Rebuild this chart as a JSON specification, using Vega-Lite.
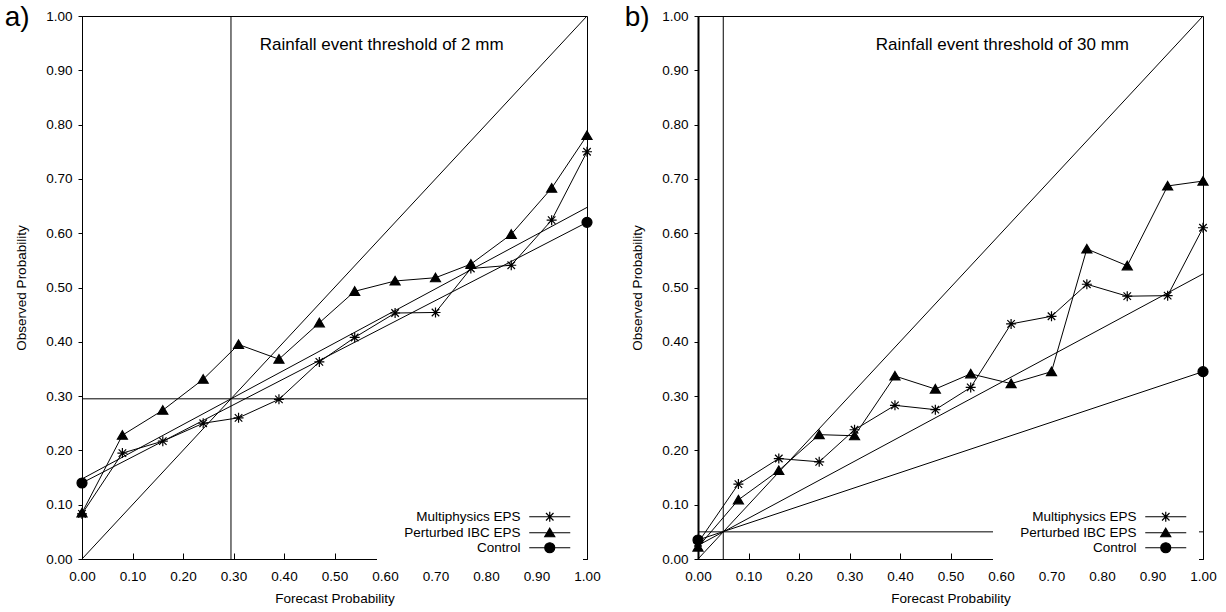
{
  "$schema": "https://vega.github.io/schema/vega-lite/v6.json",
  "background": "white",
  "padding": {"left": 4, "top": 3, "right": 5, "bottom": 5},
  "spacing": 16,
  "config": {
    "font": "Liberation Sans",
    "view": {"stroke": "black", "strokeWidth": 1},
    "axis": {"grid": false, "domainColor": "black", "tickColor": "black", "labelColor": "black", "titleColor": "black", "labelFontSize": 13.5, "titleFontSize": 13.5, "titleFontWeight": "normal", "labelFont": "Liberation Sans", "titleFont": "Liberation Sans", "labelOverlap": false, "labelFlush": false},
    "legend": {"labelFont": "Liberation Sans", "labelFontSize": 13.5, "labelColor": "black"}
  },
  "datasets": {
    "a": [
      {"series": "Multiphysics EPS", "fp": 0.0, "op": 0.083},
      {"series": "Multiphysics EPS", "fp": 0.08, "op": 0.195},
      {"series": "Multiphysics EPS", "fp": 0.16, "op": 0.217},
      {"series": "Multiphysics EPS", "fp": 0.24, "op": 0.25},
      {"series": "Multiphysics EPS", "fp": 0.31, "op": 0.26},
      {"series": "Multiphysics EPS", "fp": 0.39, "op": 0.294},
      {"series": "Multiphysics EPS", "fp": 0.47, "op": 0.363},
      {"series": "Multiphysics EPS", "fp": 0.54, "op": 0.408},
      {"series": "Multiphysics EPS", "fp": 0.62, "op": 0.453},
      {"series": "Multiphysics EPS", "fp": 0.70, "op": 0.454},
      {"series": "Multiphysics EPS", "fp": 0.77, "op": 0.535},
      {"series": "Multiphysics EPS", "fp": 0.85, "op": 0.541},
      {"series": "Multiphysics EPS", "fp": 0.93, "op": 0.624},
      {"series": "Multiphysics EPS", "fp": 1.0, "op": 0.75},
      {"series": "Perturbed IBC EPS", "fp": 0.0, "op": 0.085},
      {"series": "Perturbed IBC EPS", "fp": 0.08, "op": 0.228},
      {"series": "Perturbed IBC EPS", "fp": 0.16, "op": 0.274},
      {"series": "Perturbed IBC EPS", "fp": 0.24, "op": 0.331},
      {"series": "Perturbed IBC EPS", "fp": 0.31, "op": 0.395},
      {"series": "Perturbed IBC EPS", "fp": 0.39, "op": 0.368},
      {"series": "Perturbed IBC EPS", "fp": 0.47, "op": 0.435},
      {"series": "Perturbed IBC EPS", "fp": 0.54, "op": 0.493},
      {"series": "Perturbed IBC EPS", "fp": 0.62, "op": 0.512},
      {"series": "Perturbed IBC EPS", "fp": 0.70, "op": 0.518},
      {"series": "Perturbed IBC EPS", "fp": 0.77, "op": 0.543},
      {"series": "Perturbed IBC EPS", "fp": 0.85, "op": 0.598},
      {"series": "Perturbed IBC EPS", "fp": 0.93, "op": 0.683},
      {"series": "Perturbed IBC EPS", "fp": 1.0, "op": 0.78},
      {"series": "Control", "fp": 0.0, "op": 0.14},
      {"series": "Control", "fp": 1.0, "op": 0.62}
    ],
    "b": [
      {"series": "Multiphysics EPS", "fp": 0.0, "op": 0.03},
      {"series": "Multiphysics EPS", "fp": 0.08, "op": 0.138},
      {"series": "Multiphysics EPS", "fp": 0.16, "op": 0.185},
      {"series": "Multiphysics EPS", "fp": 0.24, "op": 0.179},
      {"series": "Multiphysics EPS", "fp": 0.31, "op": 0.238},
      {"series": "Multiphysics EPS", "fp": 0.39, "op": 0.283},
      {"series": "Multiphysics EPS", "fp": 0.47, "op": 0.275},
      {"series": "Multiphysics EPS", "fp": 0.54, "op": 0.316},
      {"series": "Multiphysics EPS", "fp": 0.62, "op": 0.433},
      {"series": "Multiphysics EPS", "fp": 0.70, "op": 0.447},
      {"series": "Multiphysics EPS", "fp": 0.77, "op": 0.506},
      {"series": "Multiphysics EPS", "fp": 0.85, "op": 0.484},
      {"series": "Multiphysics EPS", "fp": 0.93, "op": 0.485},
      {"series": "Multiphysics EPS", "fp": 1.0, "op": 0.61},
      {"series": "Perturbed IBC EPS", "fp": 0.0, "op": 0.022},
      {"series": "Perturbed IBC EPS", "fp": 0.08, "op": 0.109},
      {"series": "Perturbed IBC EPS", "fp": 0.16, "op": 0.163},
      {"series": "Perturbed IBC EPS", "fp": 0.24, "op": 0.229},
      {"series": "Perturbed IBC EPS", "fp": 0.31, "op": 0.227},
      {"series": "Perturbed IBC EPS", "fp": 0.39, "op": 0.337},
      {"series": "Perturbed IBC EPS", "fp": 0.47, "op": 0.313},
      {"series": "Perturbed IBC EPS", "fp": 0.54, "op": 0.341},
      {"series": "Perturbed IBC EPS", "fp": 0.62, "op": 0.323},
      {"series": "Perturbed IBC EPS", "fp": 0.70, "op": 0.345},
      {"series": "Perturbed IBC EPS", "fp": 0.77, "op": 0.571},
      {"series": "Perturbed IBC EPS", "fp": 0.85, "op": 0.54},
      {"series": "Perturbed IBC EPS", "fp": 0.93, "op": 0.687},
      {"series": "Perturbed IBC EPS", "fp": 1.0, "op": 0.696},
      {"series": "Control", "fp": 0.0, "op": 0.035},
      {"series": "Control", "fp": 1.0, "op": 0.345}
    ],
    "refA": [
      {"ref": "perfect", "x": 0, "y": 0, "x2": 1, "y2": 1},
      {"ref": "no skill", "x": 0, "y": 0.1475, "x2": 1, "y2": 0.6475},
      {"ref": "climatology", "x": 0, "y": 0.295, "x2": 1, "y2": 0.295},
      {"ref": "climatology", "x": 0.295, "y": 0, "x2": 0.295, "y2": 1}
    ],
    "refB": [
      {"ref": "perfect", "x": 0, "y": 0, "x2": 1, "y2": 1},
      {"ref": "no skill", "x": 0, "y": 0.025, "x2": 1, "y2": 0.525},
      {"ref": "climatology", "x": 0, "y": 0.05, "x2": 1, "y2": 0.05},
      {"ref": "climatology", "x": 0.05, "y": 0, "x2": 0.05, "y2": 1}
    ]
  },
  "resolve": {"scale": {"shape": "independent"}, "legend": {"shape": "independent"}},
  "hconcat": [
    {
      "width": 505,
      "height": 543,
      "title": {"text": "a)", "anchor": "start", "frame": "bounds", "fontSize": 28, "fontWeight": "normal", "font": "Liberation Sans", "color": "black", "offset": -23, "dx": -10},
      "resolve": {"scale": {"shape": "independent"}, "legend": {"shape": "independent"}},
      "layer": [
        {
          "data": {"name": "refA"},
          "mark": {"type": "rule", "color": "black", "strokeWidth": 1},
          "encoding": {
            "x": {"field": "x", "type": "quantitative", "scale": {"domain": [0, 1]}, "axis": {"title": "Forecast Probability", "values": [0, 0.1, 0.2, 0.3, 0.4, 0.5, 0.6, 0.7, 0.8, 0.9, 1], "format": ".2f", "tickSize": -6, "labelPadding": 16, "titlePadding": 9}},
            "y": {"field": "y", "type": "quantitative", "scale": {"domain": [0, 1]}, "axis": {"title": "Observed Probability", "values": [0, 0.1, 0.2, 0.3, 0.4, 0.5, 0.6, 0.7, 0.8, 0.9, 1], "format": ".2f", "tickSize": 4, "labelPadding": 6, "titlePadding": 17}},
            "x2": {"field": "x2"},
            "y2": {"field": "y2"}
          }
        },
        {
          "data": {"name": "a"},
          "mark": {"type": "line", "color": "black", "strokeWidth": 1},
          "encoding": {
            "x": {"field": "fp", "type": "quantitative"},
            "y": {"field": "op", "type": "quantitative"},
            "detail": {"field": "series", "type": "nominal"}
          }
        },
        {
          "data": {"name": "a"},
          "mark": {"type": "point", "filled": true, "fill": "black", "stroke": "black", "strokeWidth": 1.2, "opacity": 1, "size": 100},
          "encoding": {
            "x": {"field": "fp", "type": "quantitative"},
            "y": {"field": "op", "type": "quantitative"},
            "shape": {
              "field": "series", "type": "nominal",
              "scale": {"domain": ["Multiphysics EPS", "Perturbed IBC EPS", "Control"], "range": ["M-1,0H1M0,-1V1M-0.75,-0.75L0.75,0.75M-0.75,0.75L0.75,-0.75", "M0,-0.9L1,0.8L-1,0.8Z", "M-1,0A1,1,0,1,1,1,0A1,1,0,1,1,-1,0Z"]},
              "legend": null
            }
          }
        },
        {
          "data": {"name": "a"},
          "mark": {"type": "point", "filled": true, "fill": "black", "stroke": "black", "strokeWidth": 1.2, "opacity": 0, "size": 100},
          "encoding": {
            "x": {"field": "fp", "type": "quantitative"},
            "y": {"field": "op", "type": "quantitative"},
            "shape": {
              "field": "series", "type": "nominal",
              "scale": {"domain": ["Multiphysics EPS", "Perturbed IBC EPS", "Control"], "range": ["M-4.1,0H4.1M0,-1V1M-0.75,-0.75L0.75,0.75M-0.75,0.75L0.75,-0.75", "M-4.1,0H4.1M0,-0.9L1,0.8L-1,0.8Z", "M-4.1,0H4.1M-1,0A1,1,0,1,1,1,0A1,1,0,1,1,-1,0Z"]},
              "legend": {
                "title": null, "orient": "none", "legendX": 295, "legendY": 484, "direction": "vertical",
                "padding": 10, "fillColor": "white", "rowPadding": 0,
                "labelAlign": "right", "labelOffset": -36, "symbolOffset": 156, "symbolSize": 100,
                "symbolFillColor": "black", "symbolStrokeColor": "black", "symbolStrokeWidth": 1.2, "symbolOpacity": 1,
                "encoding": {"symbols": {"stroke": {"value": "black"}, "strokeWidth": {"value": 1.2}, "fill": {"value": "black"}, "opacity": {"value": 1}}}
              }
            }
          }
        },
        {
          "data": {"values": [{"label": "Rainfall event threshold of 2 mm"}]},
          "mark": {"type": "text", "align": "left", "baseline": "middle", "fontSize": 17, "font": "Liberation Sans", "color": "black"},
          "encoding": {
            "x": {"datum": 0.352},
            "y": {"datum": 0.947},
            "text": {"field": "label"}
          }
        }
      ]
    },
    {
      "width": 505,
      "height": 543,
      "title": {"text": "b)", "anchor": "start", "frame": "bounds", "fontSize": 28, "fontWeight": "normal", "font": "Liberation Sans", "color": "black", "offset": -23, "dx": -6},
      "resolve": {"scale": {"shape": "independent"}, "legend": {"shape": "independent"}},
      "layer": [
        {
          "data": {"name": "refB"},
          "mark": {"type": "rule", "color": "black", "strokeWidth": 1},
          "encoding": {
            "x": {"field": "x", "type": "quantitative", "scale": {"domain": [0, 1]}, "axis": {"title": "Forecast Probability", "values": [0, 0.1, 0.2, 0.3, 0.4, 0.5, 0.6, 0.7, 0.8, 0.9, 1], "format": ".2f", "tickSize": -6, "labelPadding": 16, "titlePadding": 9}},
            "y": {"field": "y", "type": "quantitative", "scale": {"domain": [0, 1]}, "axis": {"title": "Observed Probability", "values": [0, 0.1, 0.2, 0.3, 0.4, 0.5, 0.6, 0.7, 0.8, 0.9, 1], "format": ".2f", "tickSize": 4, "labelPadding": 6, "titlePadding": 17, "domainWidth": 2}},
            "x2": {"field": "x2"},
            "y2": {"field": "y2"}
          }
        },
        {
          "data": {"name": "b"},
          "mark": {"type": "line", "color": "black", "strokeWidth": 1},
          "encoding": {
            "x": {"field": "fp", "type": "quantitative"},
            "y": {"field": "op", "type": "quantitative"},
            "detail": {"field": "series", "type": "nominal"}
          }
        },
        {
          "data": {"name": "b"},
          "mark": {"type": "point", "filled": true, "fill": "black", "stroke": "black", "strokeWidth": 1.2, "opacity": 1, "size": 100},
          "encoding": {
            "x": {"field": "fp", "type": "quantitative"},
            "y": {"field": "op", "type": "quantitative"},
            "shape": {
              "field": "series", "type": "nominal",
              "scale": {"domain": ["Multiphysics EPS", "Perturbed IBC EPS", "Control"], "range": ["M-1,0H1M0,-1V1M-0.75,-0.75L0.75,0.75M-0.75,0.75L0.75,-0.75", "M0,-0.9L1,0.8L-1,0.8Z", "M-1,0A1,1,0,1,1,1,0A1,1,0,1,1,-1,0Z"]},
              "legend": null
            }
          }
        },
        {
          "data": {"name": "b"},
          "mark": {"type": "point", "filled": true, "fill": "black", "stroke": "black", "strokeWidth": 1.2, "opacity": 0, "size": 100},
          "encoding": {
            "x": {"field": "fp", "type": "quantitative"},
            "y": {"field": "op", "type": "quantitative"},
            "shape": {
              "field": "series", "type": "nominal",
              "scale": {"domain": ["Multiphysics EPS", "Perturbed IBC EPS", "Control"], "range": ["M-4.1,0H4.1M0,-1V1M-0.75,-0.75L0.75,0.75M-0.75,0.75L0.75,-0.75", "M-4.1,0H4.1M0,-0.9L1,0.8L-1,0.8Z", "M-4.1,0H4.1M-1,0A1,1,0,1,1,1,0A1,1,0,1,1,-1,0Z"]},
              "legend": {
                "title": null, "orient": "none", "legendX": 295, "legendY": 484, "direction": "vertical",
                "padding": 10, "fillColor": "white", "rowPadding": 0,
                "labelAlign": "right", "labelOffset": -36, "symbolOffset": 156, "symbolSize": 100,
                "symbolFillColor": "black", "symbolStrokeColor": "black", "symbolStrokeWidth": 1.2, "symbolOpacity": 1,
                "encoding": {"symbols": {"stroke": {"value": "black"}, "strokeWidth": {"value": 1.2}, "fill": {"value": "black"}, "opacity": {"value": 1}}}
              }
            }
          }
        },
        {
          "data": {"values": [{"label": "Rainfall event threshold of 30 mm"}]},
          "mark": {"type": "text", "align": "left", "baseline": "middle", "fontSize": 17, "font": "Liberation Sans", "color": "black"},
          "encoding": {
            "x": {"datum": 0.352},
            "y": {"datum": 0.947},
            "text": {"field": "label"}
          }
        }
      ]
    }
  ]
}
